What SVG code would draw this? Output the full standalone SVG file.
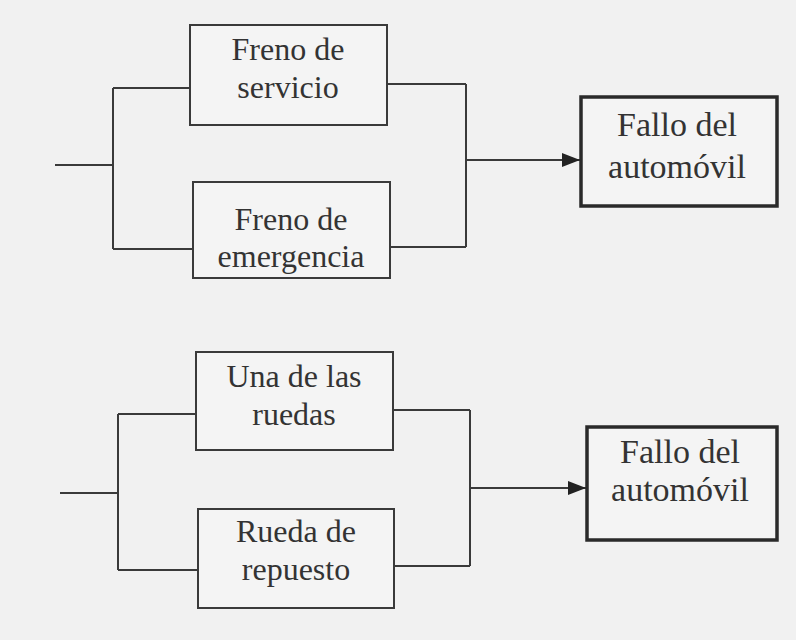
<svg xmlns="http://www.w3.org/2000/svg" width="796" height="640" viewBox="0 0 796 640">
<defs>
<style>
.bg{fill:#f1f1f1}
.box{fill:#f4f4f4;stroke:#3a3a3a;stroke-width:2}
.out{fill:#f4f4f4;stroke:#2a2a2a;stroke-width:3.5}
.ln{fill:none;stroke:#3a3a3a;stroke-width:2}
text{font-family:"Liberation Serif","Times New Roman",serif;font-size:32px;fill:#333;text-anchor:middle}
.big{font-size:34px}
</style>
<marker id="ah" markerWidth="20" markerHeight="14" refX="18" refY="7" orient="auto" markerUnits="userSpaceOnUse">
<path d="M0,0 L18,7 L0,14 Z" fill="#222"/>
</marker>
</defs>
<rect class="bg" x="0" y="0" width="796" height="640"/>
<g id="connectors">
<path class="ln" d="M55,165 H113 M113,88 V249 M113,88 H190 M113,249 H193"/>
<path class="ln" d="M387,84 H466 M390,247 H466 M466,84 V247"/>
<path class="ln" d="M466,160 H580" marker-end="url(#ah)"/>
<path class="ln" d="M60,493 H118 M118,414 V570 M118,414 H196 M118,570 H198"/>
<path class="ln" d="M393,410 H470 M394,566 H470 M470,410 V566"/>
<path class="ln" d="M470,488 H586" marker-end="url(#ah)"/>
</g>
<g id="freno-servicio">
<rect class="box" x="190" y="25" width="197" height="100"/>
<text x="288" y="60">Freno de</text>
<text x="288" y="98">servicio</text>
</g>
<g id="freno-emergencia">
<rect class="box" x="193" y="182" width="197" height="96"/>
<text x="291" y="230">Freno de</text>
<text x="291" y="267">emergencia</text>
</g>
<g id="fallo-1">
<rect class="out" x="581" y="97" width="196" height="109"/>
<text class="big" x="677" y="136">Fallo del</text>
<text class="big" x="677" y="178">automóvil</text>
</g>
<g id="una-ruedas">
<rect class="box" x="196" y="352" width="197" height="98"/>
<text x="294" y="387">Una de las</text>
<text x="294" y="425">ruedas</text>
</g>
<g id="rueda-repuesto">
<rect class="box" x="198" y="509" width="196" height="99"/>
<text x="296" y="542">Rueda de</text>
<text x="296" y="580">repuesto</text>
</g>
<g id="fallo-2">
<rect class="out" x="587" y="427" width="190" height="113"/>
<text class="big" x="680" y="463">Fallo del</text>
<text class="big" x="680" y="501">automóvil</text>
</g>
</svg>
